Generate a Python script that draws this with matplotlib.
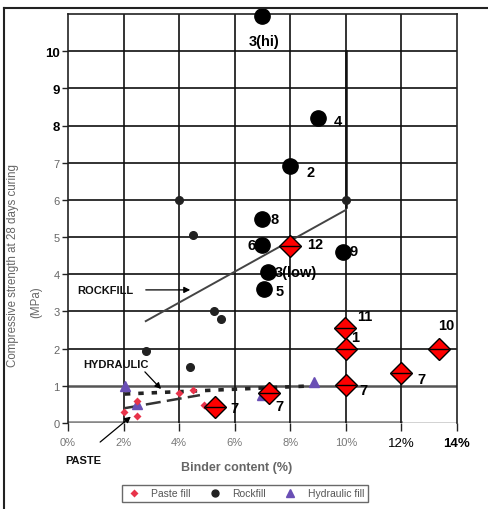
import matplotlib
matplotlib.use('Agg')
from matplotlib import pyplot as plt
from matplotlib.lines import Line2D

plt.rcParams['font.family'] = ['Liberation Sans', 'DejaVu Sans']

# Paste fill (small markers) and numbered paste fill results
paste_x = [2.0, 2.47, 2.5, 4.0, 4.5, 4.9]
paste_y = [0.30, 0.19, 0.60, 0.80, 0.90, 0.48]
paste_big_x = [9.96, 10.0, 10.0, 12.0, 13.35, 7.23, 5.3, 8.0]
paste_big_y = [2.55, 1.98, 1.02, 1.34, 2.0, 0.80, 0.42, 4.75]

# Rockfill (small markers) and numbered rockfill results
rock_x = [4.0, 4.5, 5.25, 5.5, 2.8, 4.4, 10.0]
rock_y = [6.0, 5.05, 3.0, 2.8, 1.93, 1.5, 6.0]
rock_big_x = [7.0, 9.0, 8.0, 7.0, 7.0, 9.9, 7.2, 7.05]
rock_big_y = [10.95, 8.2, 6.9, 5.5, 4.8, 4.6, 4.05, 3.6]

# Hydraulic fill
hyd_x = [2.05, 2.5, 8.85, 7.0]
hyd_y = [1.0, 0.5, 1.1, 0.75]

# trend lines
rock_trend_x = [2.8, 10.0]
rock_trend_y = [2.74, 5.73]
hyd_trend_x = [2.05, 8.8]
hyd_trend_y = [0.78, 1.0]
paste_trend_x = [2.05, 4.75]
paste_trend_y = [0.40, 0.75]

# point labels: text, x, y, ha
point_labels = [
    ('3(hi)', 7.05, 10.27, 'center'),
    ('4', 9.57, 8.12, 'left'),
    ('2', 8.6, 6.75, 'left'),
    ('8', 7.3, 5.49, 'left'),
    ('6', 6.75, 4.79, 'right'),
    ('12', 8.6, 4.81, 'left'),
    ('9', 10.15, 4.63, 'left'),
    ('3(low)', 7.45, 4.06, 'left'),
    ('5', 7.48, 3.55, 'left'),
    ('11', 10.4, 2.88, 'left'),
    ('1', 10.18, 2.31, 'left'),
    ('10', 13.6, 2.64, 'center'),
    ('7', 12.56, 1.18, 'left'),
    ('7', 10.5, 0.89, 'left'),
    ('7', 7.45, 0.46, 'left'),
    ('7', 5.83, 0.40, 'left'),
]

y_ticks = [0, 1, 2, 3, 4, 5, 6, 7, 8, 9, 10]
x_ticks = [0, 2, 4, 6, 8, 10, 12, 14]
x_labels = ['0%', '2%', '4%', '6%', '8%', '10%', '12%', '14%']

fig = plt.figure(figsize=(4.88, 5.10), dpi=100)
ax = fig.add_axes([0.1393, 0.1686, 0.797, 0.8020])
ax.set_xlim(0, 14)
ax.set_ylim(0, 11)

# grid
for yv in y_ticks:
    if yv == 0:
        ax.plot([0, 12], [0, 0], color='#888888', lw=2.6, zorder=1)
        ax.plot([12, 14], [0, 0], color='#222222', lw=1.0, zorder=1)
    elif yv == 1:
        ax.axhline(yv, color='#555555', lw=1.8, zorder=1)
    else:
        ax.axhline(yv, color='#222222', lw=1.3, zorder=1)
for xv in x_ticks[1:-1]:
    ax.axvline(xv, color='#111111', lw=1.2, zorder=1)
ax.plot([10, 10], [5.8, 10], color='#111111', lw=1.8, zorder=1)

for s in ['left', 'right', 'top']:
    ax.spines[s].set_color('#222222')
    ax.spines[s].set_linewidth(1.2)
ax.spines['bottom'].set_visible(False)

# trend lines
ax.plot(rock_trend_x, rock_trend_y, color='#444444', lw=1.4, zorder=2)
ax.plot(hyd_trend_x, hyd_trend_y, color='#222222', lw=2.6, dashes=(1.5, 2.2), zorder=2)
ax.plot(paste_trend_x, paste_trend_y, color='#333333', lw=1.8, dashes=(6, 2.5), zorder=2)

# small markers
ax.plot(rock_x, rock_y, 'o', color='#222222', ms=5.5, zorder=3)
ax.plot(hyd_x, hyd_y, '^', color='#6A4FB5', ms=6.5, zorder=3)
ax.plot(paste_x, paste_y, 'D', color='#E8334A', ms=4.5, mec='none', zorder=4)

# big markers
ax.plot(rock_big_x, rock_big_y, 'o', color='black', ms=11, zorder=5, clip_on=False)
ax.plot(paste_big_x, paste_big_y, 'D', color='#FF0000', mec='black', mew=1.0,
        ms=11.5, zorder=5)
ax.plot(paste_big_x, paste_big_y, '_', color='black', mew=1.0, ms=14, zorder=6)

for txt, xv, yv, ha in point_labels:
    ax.text(xv, yv, txt, ha=ha, va='center', fontsize=10.5, fontweight='bold',
            color='black', zorder=7)

# annotations
ax.text(0.32, 3.58, 'ROCKFILL', ha='left', va='center', fontsize=8,
        fontweight='bold', color='#111111')
ax.annotate('', xy=(4.5, 3.58), xytext=(2.7, 3.58),
            arrowprops=dict(arrowstyle='-|>', color='black', lw=0.9,
                            mutation_scale=9))
ax.text(0.54, 1.59, 'HYDRAULIC', ha='left', va='center', fontsize=8,
        fontweight='bold', color='#111111')
ax.annotate('', xy=(3.42, 0.86), xytext=(2.7, 1.43),
            arrowprops=dict(arrowstyle='-|>', color='black', lw=0.9,
                            mutation_scale=9))
ax.text(-0.11, -1.0, 'PASTE', ha='left', va='center', fontsize=8,
        fontweight='bold', color='#111111', clip_on=False)
ax.annotate('', xy=(2.34, 0.22), xytext=(1.08, -0.56),
            arrowprops=dict(arrowstyle='-|>', color='black', lw=0.9,
                            mutation_scale=9), annotation_clip=False)

# ticks
ax.set_yticks(y_ticks)
ax.set_yticklabels([str(v) for v in y_ticks])
ax.set_xticks(x_ticks)
ax.set_xticklabels(x_labels)
ax.tick_params(axis='y', direction='out', length=4, width=1, color='#222222',
               labelsize=8, labelcolor='#666666', pad=2)
ax.tick_params(axis='x', direction='out', length=6, width=1, color='#222222',
               labelsize=8, labelcolor='#777777', pad=4)
for lab in ax.get_yticklabels():
    if lab.get_text() in ('8', '9', '10'):
        lab.set_color('black')
        lab.set_fontsize(9.5)
        lab.set_fontweight('bold')
for lab in ax.get_xticklabels():
    if lab.get_text() == '12%':
        lab.set_color('black')
        lab.set_fontsize(9.5)
    elif lab.get_text() == '14%':
        lab.set_color('black')
        lab.set_fontsize(9.5)
        lab.set_fontweight('bold')

# axis titles
fig.text(0.027, 0.480, 'Compressive strength at 28 days curing', rotation=90,
         ha='center', va='center', fontsize=8.3, color='#666666')
fig.text(0.074, 0.408, '(MPa)', rotation=90, ha='center', va='center',
         fontsize=8.3, color='#666666')
fig.text(0.484, 0.082, 'Binder content (%)', ha='center', va='center',
         fontsize=9, fontweight='bold', color='#666666')

# outer frame (top and left)
fig.add_artist(Line2D([0.008, 0.008], [0.0, 0.982], color='#222222', lw=1.5,
                      transform=fig.transFigure))
fig.add_artist(Line2D([0.008, 1.0], [0.982, 0.982], color='#222222', lw=1.5,
                      transform=fig.transFigure))

handles = [
    Line2D([], [], marker='D', color='#E8334A', ls='none', ms=4.5, mec='none'),
    Line2D([], [], marker='o', color='#222222', ls='none', ms=5),
    Line2D([], [], marker='^', color='#6A4FB5', ls='none', ms=5.5),
]
leg = fig.legend(handles, ['Paste fill', 'Rockfill', 'Hydraulic fill'],
                 loc='center', bbox_to_anchor=(0.502, 0.031), ncol=3,
                 fontsize=7.5, frameon=True, fancybox=False, borderpad=0.35,
                 handletextpad=0.9, columnspacing=1.6, handlelength=1.5)
leg.get_frame().set_edgecolor('#444444')
leg.get_frame().set_linewidth(1.0)
for t in leg.get_texts():
    t.set_color('#555555')

plt.savefig('out.png', dpi=100)
plt.close()
